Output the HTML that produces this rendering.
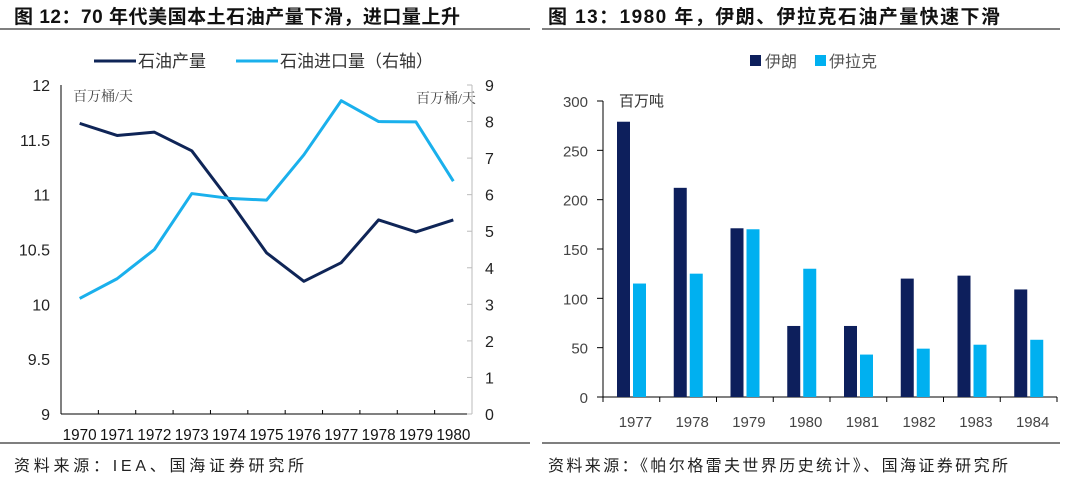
<!DOCTYPE html>
<html><head><meta charset="utf-8"><style>
body{margin:0;background:#fff;width:1080px;height:478px;overflow:hidden}
svg{font-family:"Liberation Sans","Noto Sans CJK SC",sans-serif}
</style></head><body>
<svg id="s" width="1080" height="478" xmlns="http://www.w3.org/2000/svg">
<text x="14" y="23" font-size="19" font-weight="bold" fill="#111" textLength="446" lengthAdjust="spacing">图 12：70 年代美国本土石油产量下滑，进口量上升</text>
<line x1="0" y1="29" x2="530" y2="29" stroke="#333" stroke-width="1.2"/>
<text x="548" y="23" font-size="19" font-weight="bold" fill="#111" textLength="452" lengthAdjust="spacing">图 13：1980 年，伊朗、伊拉克石油产量快速下滑</text>
<line x1="542" y1="29" x2="1060" y2="29" stroke="#333" stroke-width="1.2"/>
<line x1="0" y1="443" x2="530" y2="443" stroke="#333" stroke-width="1.2"/>
<line x1="542" y1="443" x2="1060" y2="443" stroke="#333" stroke-width="1.2"/>
<text x="14" y="471" font-size="16" fill="#222" textLength="290" lengthAdjust="spacing">资料来源：IEA、国海证券研究所</text>
<text x="548" y="471" font-size="16" fill="#222" textLength="460" lengthAdjust="spacing">资料来源：《帕尔格雷夫世界历史统计》、国海证券研究所</text>
<g>
<line x1="94" y1="61" x2="136" y2="61" stroke="#0f2557" stroke-width="3"/>
<text x="138" y="67" font-size="17" fill="#333">石油产量</text>
<line x1="236" y1="61" x2="278" y2="61" stroke="#1ab0ec" stroke-width="3"/>
<text x="280" y="67" font-size="17" fill="#333">石油进口量（右轴）</text>
</g>
<g>
<rect x="750" y="55" width="11" height="11" fill="#0d1f5c"/>
<text x="765" y="67" font-size="16" fill="#555">伊朗</text>
<rect x="815" y="55" width="11" height="11" fill="#00b0f0"/>
<text x="829" y="67" font-size="16" fill="#555">伊拉克</text>
</g>
<text x="73" y="101" font-size="14" fill="#444" font-family="Liberation Serif,Noto Serif CJK SC,serif">百万桶/天</text>
<text x="416" y="103" font-size="14" fill="#444" font-family="Liberation Serif,Noto Serif CJK SC,serif">百万桶/天</text>
<text x="619" y="106" font-size="15" fill="#333">百万吨</text>
<g id="L"></g><g id="R"></g>
</svg>
<script>
const years=["1970","1971","1972","1973","1974","1975","1976","1977","1978","1979","1980"];
const production=[11.65,11.54,11.57,11.40,10.95,10.47,10.21,10.38,10.77,10.66,10.77];
const imports=[3.16,3.7,4.5,6.03,5.9,5.85,7.09,8.57,8.0,7.99,6.37];
const leftTicks=["9","9.5","10","10.5","11","11.5","12"];
const rightTicks=["0","1","2","3","4","5","6","7","8","9"];
const barYears=["1977","1978","1979","1980","1981","1982","1983","1984"];
const iran=[279,212,171,72,72,120,123,109];
const iraq=[115,125,170,130,43,49,53,58];
const barTicks=["0","50","100","150","200","250","300"];
const NS="http://www.w3.org/2000/svg";
function mk(p,t,a){const e=document.createElementNS(NS,t);for(const k in a)e.setAttribute(k,a[k]);p.appendChild(e);return e;}
const L=document.getElementById('L');
const x0=61,x1=472,yT=85,yB=414,cw=(x1-x0)/years.length;
const xL=i=>x0+cw*(i+0.5);
const yLeft=v=>yB-(v-9)/3*(yB-yT);
const yRight=v=>yB-v/9*(yB-yT);
let a=mk(L,'line',{x1:x0,y1:yT,x2:x0,y2:yB,stroke:'#000'});


a=mk(L,'line',{x1:x1,y1:yT,x2:x1,y2:yB,stroke:'#bbb'});


a=mk(L,'line',{x1:x0,y1:yB,x2:x1,y2:yB,stroke:'#000'});


leftTicks.forEach(t=>{const y=yLeft(+t);const e=mk(L,'text',{x:50,y:y+6,'font-size':16,fill:'#222','text-anchor':'end'});e.textContent=t;

});
rightTicks.forEach(t=>{const y=yRight(+t);mk(L,'line',{x1:x1-5,y1:y,x2:x1,y2:y,stroke:'#bbb'});const e=mk(L,'text',{x:485,y:y+6,'font-size':16,fill:'#222'});e.textContent=t;

});
years.forEach((t,i)=>{if(i>0)mk(L,'line',{x1:x0+cw*i,y1:yB,x2:x0+cw*i,y2:yB-4,stroke:'#000'});const e=mk(L,'text',{x:xL(i),y:440,'font-size':16,fill:'#111','text-anchor':'middle',textLength:34,lengthAdjust:'spacingAndGlyphs'});e.textContent=t;

});
let p=mk(L,'polyline',{points:production.map((v,i)=>xL(i)+','+yLeft(v)).join(' '),fill:'none',stroke:'#0f2557','stroke-width':3,'stroke-linejoin':'round'});


p=mk(L,'polyline',{points:imports.map((v,i)=>xL(i)+','+yRight(v)).join(' '),fill:'none',stroke:'#1ab0ec','stroke-width':3,'stroke-linejoin':'round'});


const R=document.getElementById('R');
const bx0=603,bx1=1057,byT=101,byB=397,bw=(bx1-bx0)/barYears.length;
const yB2=v=>byB-v/300*(byB-byT);
a=mk(R,'line',{x1:bx0,y1:byT,x2:bx0,y2:byB,stroke:'#000'});


a=mk(R,'line',{x1:bx0-6,y1:byB,x2:bx1,y2:byB,stroke:'#000'});


barTicks.forEach(t=>{const y=yB2(+t);mk(R,'line',{x1:bx0-6,y1:y,x2:bx0,y2:y,stroke:'#000'});const e=mk(R,'text',{x:588,y:y+6,'font-size':15,fill:'#444','text-anchor':'end'});e.textContent=t;

});
barYears.forEach((t,i)=>{const c=bx0+bw*i;mk(R,'line',{x1:c+bw,y1:byB,x2:c+bw,y2:byB+5,stroke:'#000'});if(i==0)mk(R,'line',{x1:c,y1:byB,x2:c,y2:byB+5,stroke:'#000'});
let r=mk(R,'rect',{x:c+14,y:yB2(iran[i]),width:13,height:byB-yB2(iran[i]),fill:'#0d1f5c'});


r=mk(R,'rect',{x:c+30,y:yB2(iraq[i]),width:13,height:byB-yB2(iraq[i]),fill:'#00b0f0'});


const e=mk(R,'text',{x:c+bw/2+4,y:427,'font-size':15,fill:'#444','text-anchor':'middle'});e.textContent=t;

});
</script>
</body></html>
